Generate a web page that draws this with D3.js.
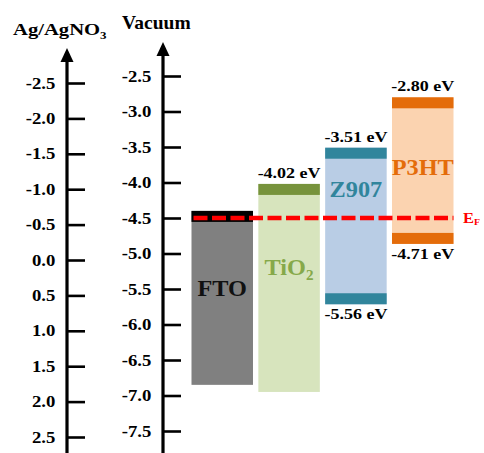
<!DOCTYPE html>
<html>
<head>
<meta charset="UTF-8">
<title>Energy levels</title>
<script src="https://cdn.jsdelivr.net/npm/d3@7"></script>
<style>
  html, body { margin: 0; padding: 0; background: #fff; overflow: hidden; }
  text { font-family: "Liberation Serif", "Times New Roman", serif; font-weight: bold; }
</style>
</head>
<body>
<div id="chart"></div>
<script>
// tick labels of the two energy axes
const vacTicks = [-2.5, -3.0, -3.5, -4.0, -4.5, -5.0, -5.5, -6.0, -6.5, -7.0, -7.5]
const agTicks = [-2.5, -2.0, -1.5, -1.0, -0.5, 0.0, 0.5, 1.0, 1.5, 2.0, 2.5]

// layers, energies vs vacuum (eV)
const materials = ['FTO', 'TiO2', 'Z907', 'P3HT']
const upperLevels = [-4.40, -4.02, -3.51, -2.80]
const lowerLevels = [-6.85, -6.95, -5.56, -4.71]
const upperLabels = ['', '-4.02 eV', '-3.51 eV', '-2.80 eV']
const lowerLabels = ['', '', '-5.56 eV', '-4.71 eV']
const nameLevels = [-5.6, -5.3, -4.2, -3.9]
const fermiLevel = -4.5

// styles
const fillColors = ['#808080', '#d7e4bd', '#b9cde5', '#fbd3b0']
const bandColors = ['#000000', '#77933c', '#31859c', '#e46c0a']
const nameColors = ['#111111', '#86a94a', '#31859c', '#e46c0a']
const lowerBand = [false, false, true, true]
const bandH = 11

const W = 484, H = 453
const svg = d3.select('#chart').append('svg').attr('width', W).attr('height', H)

const yVac = d3.scaleLinear().domain([-2.5, -7.5]).range([76, 431])
const yAg = d3.scaleLinear().domain([-2.5, 2.5]).range([83, 437])
const x = d3.scaleBand().domain(materials).range([191.5, 453.5]).paddingInner(0.08)

function stretch(sel, tx, ty, sx) {
    return sel.attr('transform', `translate(${tx},${ty}) scale(${sx},1)`)
}

// axes
function drawAxis(scale, ticks, ax, tipY) {
    const g = svg.append('g').attr('transform', `translate(${ax},0)`)
    g.call(d3.axisLeft(scale).tickValues(ticks).tickFormat(d => d.toFixed(1))
        .tickSizeInner(-18).tickSizeOuter(0).tickPadding(10))
    g.select('.domain').remove()
    g.selectAll('.tick line').attr('stroke', '#000').attr('stroke-width', 2.6)
    g.selectAll('.tick text').attr('font-size', 16).attr('fill', '#000')
        .attr('font-family', '"Liberation Serif", serif').attr('font-weight', 'bold')
        .attr('transform', 'scale(1.17,1)')
    g.append('line').attr('x1', 0).attr('x2', 0).attr('y1', tipY + 10).attr('y2', H)
        .attr('stroke', '#000').attr('stroke-width', 3.2)
    g.append('path').attr('d', `M0,${tipY} L-6.5,${tipY + 14} L6.5,${tipY + 14} Z`).attr('fill', '#000')
}
drawAxis(yAg, agTicks, 67, 48)
drawAxis(yVac, vacTicks, 163, 42)

// axis titles
const t1 = svg.append('text').attr('font-size', 17.5)
stretch(t1, 13, 35, 1.18)
t1.append('tspan').text('Ag/AgNO')
t1.append('tspan').text('3').attr('font-size', 11).attr('dy', 4)
const t2 = svg.append('text').attr('font-size', 19.5).text('Vacuum')
stretch(t2, 122, 29, 1.0)

// boxes
const cols = svg.append('g').selectAll('g').data(materials).join('g')
cols.append('rect')
    .attr('x', d => x(d)).attr('width', x.bandwidth())
    .attr('y', (d, i) => yVac(upperLevels[i]))
    .attr('height', (d, i) => yVac(lowerLevels[i]) + (lowerBand[i] ? bandH : 0) - yVac(upperLevels[i]))
    .attr('fill', (d, i) => fillColors[i])
cols.append('rect')
    .attr('x', d => x(d)).attr('width', x.bandwidth())
    .attr('y', (d, i) => yVac(upperLevels[i])).attr('height', bandH)
    .attr('fill', (d, i) => bandColors[i])
cols.filter((d, i) => lowerBand[i]).append('rect')
    .attr('x', d => x(d)).attr('width', x.bandwidth())
    .attr('y', d => yVac(lowerLevels[materials.indexOf(d)])).attr('height', bandH)
    .attr('fill', d => bandColors[materials.indexOf(d)])

// level values
cols.append('text').attr('font-size', 15).attr('text-anchor', 'middle')
    .text((d, i) => upperLabels[i])
    .each(function (d, i) { stretch(d3.select(this), x(d) + x.bandwidth() / 2, yVac(upperLevels[i]) - 6, 1.2) })
cols.append('text').attr('font-size', 15).attr('text-anchor', 'middle')
    .text((d, i) => lowerLabels[i])
    .each(function (d, i) { stretch(d3.select(this), x(d) + x.bandwidth() / 2, yVac(lowerLevels[i]) + bandH + 15, 1.2) })

// material names
cols.append('text').attr('font-size', 22.5).attr('text-anchor', 'middle')
    .attr('fill', (d, i) => nameColors[i])
    .each(function (d, i) {
        const t = d3.select(this)
        stretch(t, x(d) + x.bandwidth() / 2, yVac(nameLevels[i]), 1.08)
        if (d === 'TiO2') {
            t.append('tspan').text('TiO')
            t.append('tspan').text('2').attr('font-size', 14).attr('dy', 5)
        } else {
            t.text(d)
        }
    })

// Fermi level
svg.append('line')
    .attr('x1', x('FTO') + 2).attr('x2', x('P3HT') + x.bandwidth())
    .attr('y1', yVac(fermiLevel)).attr('y2', yVac(fermiLevel))
    .attr('stroke', '#ff0000').attr('stroke-width', 4.5).attr('stroke-dasharray', '14,4.5')
const ef = svg.append('text').attr('font-size', 15).attr('fill', '#ff0000')
stretch(ef, 463, yVac(fermiLevel) + 5, 1.1)
ef.append('tspan').text('E')
ef.append('tspan').text('F').attr('font-size', 9).attr('dy', 2)
</script>
</body>
</html>
